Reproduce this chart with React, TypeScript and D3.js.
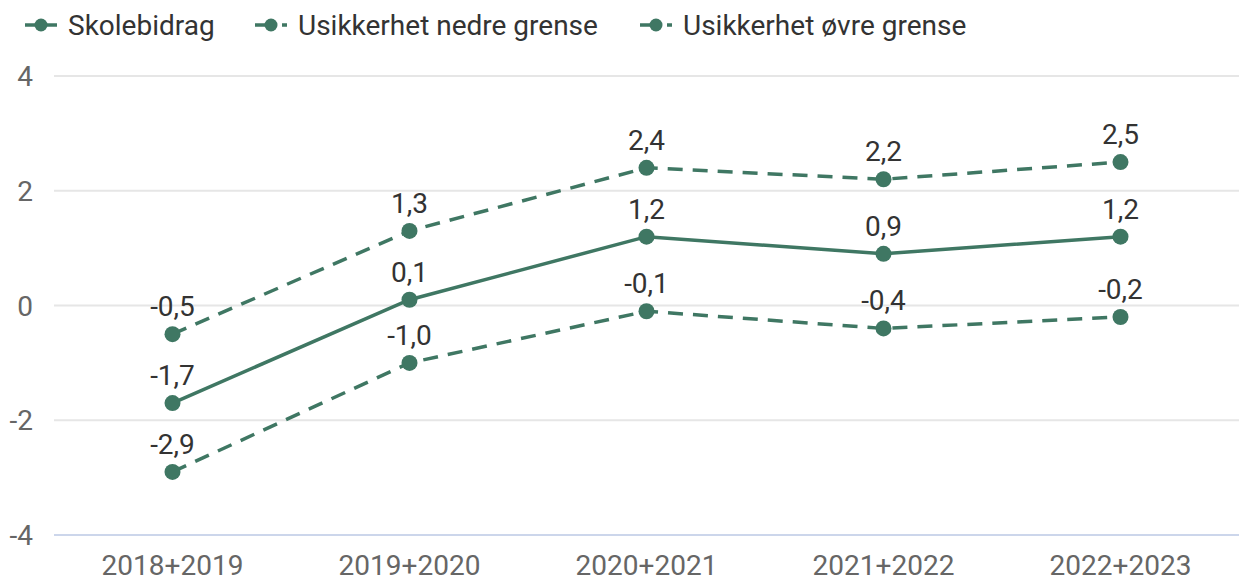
import React from 'react';
import * as d3 from 'd3';

const categories = ['2018+2019', '2019+2020', '2020+2021', '2021+2022', '2022+2023'];
const skolebidrag = [-1.7, 0.1, 1.2, 0.9, 1.2];
const nedreGrense = [-2.9, -1.0, -0.1, -0.4, -0.2];
const ovreGrense = [-0.5, 1.3, 2.4, 2.2, 2.5];
const yTicks = [-4, -2, 0, 2, 4];

const series = [
  { name: 'Skolebidrag', values: skolebidrag, dashed: false },
  { name: 'Usikkerhet nedre grense', values: nedreGrense, dashed: true },
  { name: 'Usikkerhet øvre grense', values: ovreGrense, dashed: true },
];

const COLOR = '#3f7763';
const FONT = 'Roboto, sans-serif';

export default function App() {
  const width = 1239;
  const height = 581;
  const x = d3.scaleBand().domain(categories).range([54, 1239]);
  const y = d3.scaleLinear().domain([-4, 4]).range([535, 76]);
  const cx = (c: string) => (x(c) ?? 0) + x.bandwidth() / 2;
  const fmt = (v: number) => v.toFixed(1).replace('.', ',');
  const legendX = [25, 255, 640];

  return (
    <svg
      width={width}
      height={height}
      style={{ position: 'absolute', left: 0, top: 0, fontFamily: FONT }}
    >
      <rect width={width} height={height} fill="#fff" />
      {yTicks.map((t) => (
        <g key={t}>
          <line
            x1={54}
            x2={1239}
            y1={y(t)}
            y2={y(t)}
            stroke={t === -4 ? '#ccd6eb' : '#e6e6e6'}
            strokeWidth={2}
          />
          <text x={33} y={y(t) + 10} textAnchor="end" fontSize={28} fill="#666">
            {t}
          </text>
        </g>
      ))}
      {categories.map((c) => (
        <text key={c} x={cx(c)} y={575} textAnchor="middle" fontSize={28} fill="#666">
          {c}
        </text>
      ))}
      {series.map((s) => {
        const line = d3
          .line<number>()
          .x((_, i) => cx(categories[i]))
          .y((v) => y(v));
        return (
          <g key={s.name}>
            <path
              d={line(s.values) ?? ''}
              fill="none"
              stroke={COLOR}
              strokeWidth={3.5}
              strokeDasharray={s.dashed ? '15 10' : undefined}
            />
            {s.values.map((v, i) => (
              <g key={i}>
                <circle cx={cx(categories[i])} cy={y(v)} r={8} fill={COLOR} />
                <text
                  x={cx(categories[i])}
                  y={y(v) - 18}
                  textAnchor="middle"
                  fontSize={28}
                  fill="#333"
                >
                  {fmt(v)}
                </text>
              </g>
            ))}
          </g>
        );
      })}
      {series.map((s, i) => (
        <g key={s.name} transform={`translate(${legendX[i]},25)`}>
          <line
            x1={0}
            x2={32}
            y1={0}
            y2={0}
            stroke={COLOR}
            strokeWidth={3.5}
            strokeDasharray={s.dashed ? '15 12' : undefined}
          />
          <circle cx={16} cy={0} r={6.5} fill={COLOR} />
          <text x={43} y={10} fontSize={28} fill="#333">
            {s.name}
          </text>
        </g>
      ))}
    </svg>
  );
}
